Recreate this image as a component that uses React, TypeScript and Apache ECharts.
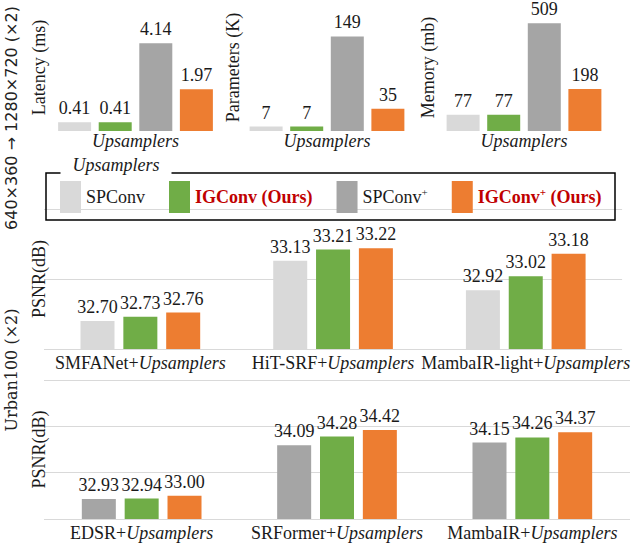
import React, { useEffect, useRef } from 'react';
import * as echarts from 'echarts';

// ---- data ----
const upsamplers = ['SPConv', 'IGConv (Ours)', 'SPConv+', 'IGConv+ (Ours)'];
const upsamplerColors = ['#D9D9D9', '#70AD47', '#A5A5A5', '#ED7D31'];

const latencyMs = [0.41, 0.41, 4.14, 1.97];
const parametersK = [7, 7, 149, 35];
const memoryMb = [77, 77, 509, 198];

const lightModels = ['SMFANet', 'HiT-SRF', 'MambaIR-light'];
const lightSPConv = [32.7, 33.13, 32.92];
const lightIGConv = [32.73, 33.21, 33.02];
const lightIGConvPlus = [32.76, 33.22, 33.18];

const heavyModels = ['EDSR', 'SRFormer', 'MambaIR'];
const heavySPConvPlus = [32.93, 34.09, 34.15];
const heavyIGConv = [32.94, 34.28, 34.26];
const heavyIGConvPlus = [33.0, 34.42, 34.37];

const lightRange = [32.5, 33.5];
const lightStep = 0.5;
const heavyRange = [32.5, 35.5];
const heavyStep = 1;

const SERIF = "'Liberation Serif', 'Times New Roman', serif";
const FS = 18;
const TXT = '#1a1a1a';
const RED = '#C00000';

function colorOf(name: string) {
  return upsamplerColors[upsamplers.indexOf(name)];
}

export default function App() {
  const ref = useRef<HTMLDivElement>(null);

  useEffect(() => {
    if (!ref.current) return;
    const chart = echarts.init(ref.current, undefined, { renderer: 'svg' });

    const labelStyle = (fmt: (v: number) => string) => ({
      show: true,
      position: 'top',
      distance: 5,
      fontFamily: SERIF,
      fontSize: FS,
      color: TXT,
      formatter: (p: any) => fmt(p.value),
    });

    const topPanels = [
      { values: latencyMs, name: 'Latency (ms)', max: 6, gap: 6, fmt: (v: number) => v.toFixed(2) },
      { values: parametersK, name: 'Parameters (K)', max: 200, gap: 4, fmt: (v: number) => String(v) },
      { values: memoryMb, name: 'Memory (mb)', max: 600, gap: 6, fmt: (v: number) => String(v) },
    ];

    const grid = [
      { left: 54, top: 4, width: 163, height: 127 },
      { left: 246, top: 4, width: 162, height: 127 },
      { left: 443, top: 4, width: 162, height: 127 },
      { left: 44, top: 209, width: 586, height: 140 },
      { left: 44, top: 380, width: 586, height: 139 },
    ];

    const xAxis: any[] = [];
    const yAxis: any[] = [];
    const series: any[] = [];

    topPanels.forEach((p, i) => {
      xAxis.push({
        gridIndex: i,
        type: 'category',
        data: ['Upsamplers'],
        axisLine: { show: false },
        axisTick: { show: false },
        axisLabel: { fontFamily: SERIF, fontStyle: 'italic', fontSize: FS, color: TXT, margin: 1 },
      });
      yAxis.push({
        gridIndex: i,
        type: 'value',
        min: 0,
        max: p.max,
        axisLine: { show: false },
        axisTick: { show: false },
        axisLabel: { show: false },
        splitLine: { show: false },
        name: p.name,
        nameLocation: 'middle',
        nameRotate: 90,
        nameGap: p.gap,
        nameTextStyle: { fontFamily: SERIF, fontSize: FS, color: TXT },
      });
      upsamplers.forEach((u, j) => {
        series.push({
          type: 'bar',
          name: u,
          xAxisIndex: i,
          yAxisIndex: i,
          data: [p.values[j]],
          barWidth: 33,
          barGap: '23%',
          itemStyle: { color: upsamplerColors[j] },
          label: labelStyle(p.fmt),
        });
      });
    });

    const catAxis = (gridIndex: number, data: string[]) => ({
      gridIndex,
      type: 'category',
      data,
      axisLine: { show: false },
      axisTick: { show: false },
      axisLabel: {
        interval: 0,
        margin: 5,
        formatter: (v: string) => `{a|${v}+}{i|Upsamplers}`,
        rich: {
          a: { fontFamily: SERIF, fontSize: FS, color: TXT },
          i: { fontFamily: SERIF, fontSize: FS, color: TXT, fontStyle: 'italic' },
        },
      },
    });
    xAxis.push(catAxis(3, lightModels));
    xAxis.push(catAxis(4, heavyModels));

    const psnrName = {
      name: 'PSNR(dB)',
      nameLocation: 'middle',
      nameRotate: 90,
      nameGap: -4,
      nameTextStyle: { fontFamily: SERIF, fontSize: FS, color: TXT },
    };
    yAxis.push({
      gridIndex: 3,
      type: 'value',
      min: lightRange[0],
      max: lightRange[1],
      interval: lightStep,
      axisLine: { show: false },
      axisTick: { show: false },
      axisLabel: { show: false },
      splitLine: { show: true, lineStyle: { color: '#D9D9D9', width: 1 } },
      ...psnrName,
    });
    yAxis.push({
      gridIndex: 4,
      type: 'value',
      min: heavyRange[0],
      max: heavyRange[1],
      axisLine: { show: false },
      axisTick: { show: false },
      axisLabel: { show: false },
      splitLine: { show: false },
      ...psnrName,
    });
    // helper axis drawing the gridlines at 32.5, 33.5, 34.5, 35.5
    yAxis.push({
      gridIndex: 4,
      type: 'value',
      position: 'left',
      min: 0,
      max: heavyRange[1] - heavyRange[0],
      interval: heavyStep,
      axisLine: { show: false },
      axisTick: { show: false },
      axisLabel: { show: false },
      splitLine: { show: true, lineStyle: { color: '#D9D9D9', width: 1 } },
    });

    const psnrFmt = (v: number) => v.toFixed(2);
    const lightSeries: [string, number[]][] = [
      ['SPConv', lightSPConv],
      ['IGConv (Ours)', lightIGConv],
      ['IGConv+ (Ours)', lightIGConvPlus],
    ];
    const heavySeries: [string, number[]][] = [
      ['SPConv+', heavySPConvPlus],
      ['IGConv (Ours)', heavyIGConv],
      ['IGConv+ (Ours)', heavyIGConvPlus],
    ];
    lightSeries.forEach(([n, d]) => {
      series.push({
        type: 'bar', name: n, xAxisIndex: 3, yAxisIndex: 3, data: d,
        barWidth: 34, barGap: '26%',
        itemStyle: { color: colorOf(n) },
        label: labelStyle(psnrFmt),
      });
    });
    heavySeries.forEach(([n, d]) => {
      series.push({
        type: 'bar', name: n, xAxisIndex: 4, yAxisIndex: 4, data: d,
        barWidth: 34, barGap: '26%',
        itemStyle: { color: colorOf(n) },
        label: labelStyle(psnrFmt),
      });
    });

    const legendText: Record<string, string> = {
      'SPConv': '{n|SPConv}',
      'IGConv (Ours)': '{o|IGConv (Ours)}',
      'SPConv+': '{n|SPConv}{ns|+}',
      'IGConv+ (Ours)': '{o|IGConv}{os|+}{o| (Ours)}',
    };

    chart.setOption({
      animation: false,
      backgroundColor: '#fff',
      grid,
      xAxis,
      yAxis,
      series,
      legend: {
        data: upsamplers,
        left: 60,
        top: 181,
        padding: 0,
        icon: 'rect',
        itemWidth: 21,
        itemHeight: 32,
        itemGap: 24,
        selectedMode: false,
        formatter: (name: string) => legendText[name],
        textStyle: {
          fontFamily: SERIF,
          fontSize: FS,
          color: TXT,
          rich: {
            n: { fontFamily: SERIF, fontSize: FS, color: TXT, lineHeight: 22 },
            ns: { fontFamily: SERIF, fontSize: 11, color: TXT, lineHeight: 12, verticalAlign: 'top' },
            o: { fontFamily: SERIF, fontSize: FS, color: RED, fontWeight: 'bold', lineHeight: 22 },
            os: { fontFamily: SERIF, fontSize: 11, color: RED, fontWeight: 'bold', lineHeight: 12, verticalAlign: 'top' },
          },
        },
      },
      graphic: [
        {
          type: 'rect',
          shape: { x: 46, y: 173, width: 569, height: 47 },
          style: { fill: 'none', stroke: '#000', lineWidth: 1.5 },
          z: 10,
        },
        {
          type: 'text',
          x: 116,
          y: 165,
          z: 11,
          style: {
            text: 'Upsamplers',
            fontFamily: SERIF,
            fontStyle: 'italic',
            fontSize: FS,
            fill: TXT,
            align: 'center',
            verticalAlign: 'middle',
            backgroundColor: '#fff',
            padding: [2, 12, 4, 12],
          },
        },
        {
          type: 'text',
          x: 11,
          y: 118,
          rotation: Math.PI / 2,
          style: {
            text: '640×360 → 1280×720 (×2)',
            fontFamily: "'DejaVu Sans', sans-serif",
            fontSize: 16,
            fill: '#222',
            align: 'center',
            verticalAlign: 'middle',
          },
        },
        {
          type: 'text',
          x: 11,
          y: 370,
          rotation: Math.PI / 2,
          style: {
            text: 'Urban100 (×2)',
            fontFamily: "'DejaVu Serif', serif",
            fontSize: 16,
            fill: '#222',
            align: 'center',
            verticalAlign: 'middle',
          },
        },
      ],
    });

    return () => chart.dispose();
  }, []);

  return (
    <div
      ref={ref}
      style={{ position: 'absolute', left: 0, top: 0, width: 632, height: 544 }}
    />
  );
}
